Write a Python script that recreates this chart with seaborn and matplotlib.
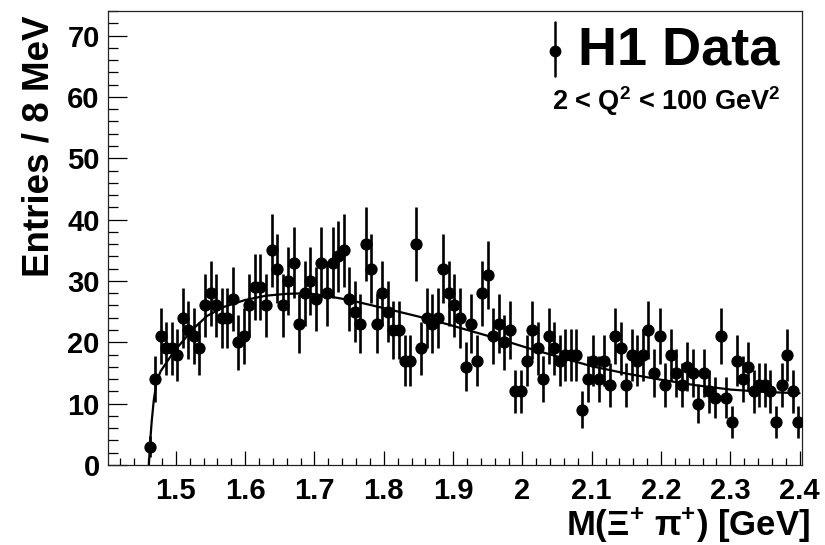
import numpy as np
import seaborn as sns
import matplotlib.pyplot as plt
from matplotlib.ticker import MultipleLocator, FormatStrFormatter

# H1 M(Xi+ pi+) spectrum, 8 MeV bins starting at 1.458 GeV
bin_low = 1.458
bin_width = 0.008
entries = [3, 14, 21, 19, 19, 18, 24, 22, 21, 19,
           26, 28, 26, 24, 24, 27, 20, 21, 26, 29,
           29, 26, 35, 32, 26, 30, 33, 23, 28, 30,
           27, 33, 28, 33, 34, 35, 27, 25, 23, 36,
           32, 23, 28, 25, 22, 22, 17, 17, 36, 19,
           24, 23, 24, 32, 28, 26, 24, 16, 23, 17,
           28, 31, 21, 23, 20, 22, 12, 12, 17, 22,
           19, 14, 21, 19, 17, 18, 18, 18, 9, 14,
           17, 14, 17, 13, 21, 19, 13, 18, 17, 18,
           22, 15, 21, 13, 18, 15, 13, 16, 15, 10,
           15, 12, 11, 21, 11, 7, 17, 14, 16, 12,
           13, 13, 12, 7, 13, 18, 12, 7]

# background fit
fit_mass = [1.461, 1.463, 1.465, 1.468, 1.472, 1.478, 1.487, 1.496, 1.51,
            1.525, 1.545, 1.57, 1.60, 1.63, 1.66, 1.69, 1.72, 1.75, 1.78,
            1.81, 1.85, 1.89, 1.93, 1.97, 2.01, 2.05, 2.10, 2.15, 2.20,
            2.25, 2.30, 2.35, 2.40]
fit_entries = [0, 4.0, 7.0, 10.5, 13.5, 15.3, 16.8, 18.3, 20.2,
               22.2, 24.3, 25.8, 26.9, 27.6, 27.9, 28.0, 27.5, 26.9, 26.1,
               25.3, 24.2, 23.0, 21.7, 20.4, 19.0, 17.7, 16.1, 14.9, 13.9,
               13.0, 12.3, 11.9, 11.7]

x_ticks = [1.5, 1.6, 1.7, 1.8, 1.9, 2.0, 2.1, 2.2, 2.3, 2.4]

entries = np.array(entries)
mass = bin_low + bin_width * (np.arange(len(entries)) + 0.5)
errors = np.sqrt(entries)

sns.set_theme(style="ticks")
plt.rcParams['font.family'] = ['Liberation Sans', 'DejaVu Sans']
plt.rcParams['font.weight'] = 'bold'
plt.rcParams['text.color'] = 'black'
plt.rcParams['axes.labelcolor'] = 'black'
plt.rcParams['xtick.color'] = 'black'
plt.rcParams['ytick.color'] = 'black'
plt.rcParams['mathtext.fontset'] = 'custom'
plt.rcParams['mathtext.rm'] = 'Liberation Sans:bold'
plt.rcParams['mathtext.it'] = 'Liberation Sans:bold'
plt.rcParams['mathtext.bf'] = 'Liberation Sans:bold'

fig = plt.figure(figsize=(8.25, 5.45), dpi=100)
ax = fig.add_axes([0.1309, 0.1468, 0.8412, 0.8330])

ax.errorbar(mass, entries, yerr=errors, fmt='none', ecolor='black',
            elinewidth=1.9, capsize=0, zorder=2)
sns.scatterplot(x=mass, y=entries, ax=ax, color='black', s=78,
                linewidth=0, zorder=3)
sns.lineplot(x=fit_mass, y=fit_entries, ax=ax, color='black', lw=1.6,
             sort=False, estimator=None, zorder=4)

ax.set_xlim(1.402, 2.4035)
ax.set_ylim(0, 74)

ax.set_xticks(x_ticks)
ax.xaxis.set_major_formatter(FormatStrFormatter('%g'))
ax.xaxis.set_minor_locator(MultipleLocator(0.02))
ax.yaxis.set_major_locator(MultipleLocator(10))
ax.yaxis.set_minor_locator(MultipleLocator(2))

ax.tick_params(axis='both', which='both', direction='in', color='black',
               width=0.9, top=False, right=False)
ax.tick_params(axis='y', which='major', length=14, pad=6, labelsize=21)
ax.tick_params(axis='y', which='minor', length=7)
ax.tick_params(axis='x', which='major', length=10, pad=9, labelsize=21)
ax.tick_params(axis='x', which='minor', length=5)

for sp in ax.spines.values():
    sp.set_visible(True)
    sp.set_color('#222222')
    sp.set_linewidth(0.9)

ax.set_xlabel(r"M(Ξ$^{+}$ π$^{+}$) [GeV]", fontsize=25, fontweight='bold',
              loc='right')
ax.xaxis.set_label_coords(1.012, -0.088)
ax.xaxis.label.set_verticalalignment('top')
ax.set_ylabel("Entries / 8 MeV", fontsize=26.5, fontweight='bold', loc='top')
ax.yaxis.set_label_coords(-0.074, 0.991)

# legend drawn by hand, ROOT style
ax.plot([0.644], [0.912], 'o', color='black', ms=7.5, transform=ax.transAxes)
ax.plot([0.644, 0.644], [0.857, 0.976], color='black', lw=1.8,
        transform=ax.transAxes)
ax.text(0.677, 0.912, "H1 Data", fontsize=39, fontweight='bold',
        ha='left', va='center', transform=ax.transAxes)
ax.text(0.640, 0.802, r"2 < Q$^{2}$ < 100 GeV$^{2}$", fontsize=19.5,
        fontweight='bold', ha='left', va='center', transform=ax.transAxes)

fig.savefig("out.png", dpi=100)
